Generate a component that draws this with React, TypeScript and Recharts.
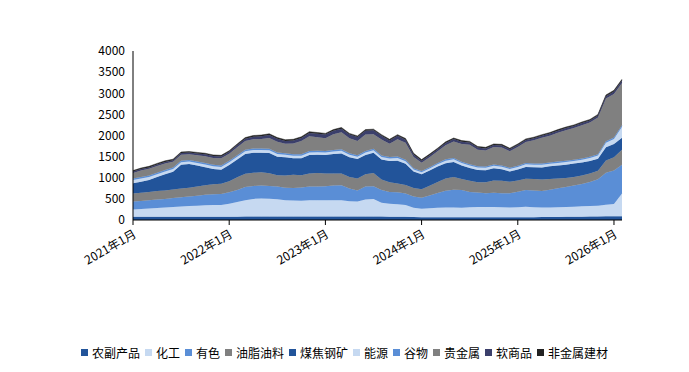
import React from "react";
import { AreaChart, Area, XAxis, YAxis, Legend } from "recharts";

// monthly, Jan 2021 .. Feb 2026
const months: string[] = [];
for (let y = 2021; y <= 2026; y++) {
  for (let m = 1; m <= 12; m++) {
    if (y === 2026 && m > 2) break;
    months.push(`${y}年${m}月`);
  }
}

const nongfu = [
  75, 75, 75, 75, 75, 75, 75, 75, 75, 75, 75, 75,
  75, 78, 80, 80, 80, 80, 80, 80, 80, 80, 80, 80,
  80, 80, 80, 80, 80, 80, 80, 80, 75, 75, 75, 70,
  65, 65, 65, 65, 65, 65, 65, 65, 65, 65, 65, 65,
  65, 68, 68, 70, 70, 72, 75, 75, 78, 80, 82, 90,
  90, 90,
];
const huagong = [
  175, 185, 195, 210, 220, 235, 245, 255, 265, 275, 280, 280,
  310, 350, 390, 420, 430, 425, 410, 390, 380, 375, 390, 385,
  385, 390, 390, 365, 355, 405, 420, 330, 310, 300, 280, 220,
  200, 215, 225, 230, 230, 225, 235, 240, 240, 240, 235, 230,
  235, 245, 235, 225, 225, 230, 235, 240, 245, 250, 255, 270,
  290, 540,
];
const youse = [
  185, 190, 195, 200, 205, 210, 220, 225, 235, 245, 255, 260,
  270, 285, 310, 305, 305, 300, 300, 295, 300, 315, 325, 330,
  335, 345, 355, 300, 265, 305, 300, 300, 280, 280, 270, 265,
  260, 300, 350, 400, 420, 420, 360, 345, 330, 340, 335, 340,
  370, 400, 395, 390, 420, 450, 470, 500, 530, 570, 630, 760,
  790, 680,
];
const youzhi = [
  195, 195, 200, 200, 200, 200, 205, 210, 215, 225, 235, 245,
  265, 300, 315, 315, 315, 300, 270, 290, 310, 290, 305, 315,
  300, 285, 276, 270, 280, 295, 310, 250, 230, 210, 205, 200,
  200, 230, 260, 285, 300, 260, 270, 245, 260, 290, 295, 270,
  265, 262, 270, 275, 255, 230, 215, 205, 200, 200, 200, 290,
  315, 355,
];
const meijiao = [
  240, 260, 280, 330, 380, 420, 560, 560, 500, 430, 360, 330,
  380, 420, 470, 470, 460, 480, 440, 430, 390, 400, 440, 435,
  440, 460, 475, 470, 465, 455, 480, 470, 500, 540, 500, 390,
  360, 360, 365, 365, 360, 320, 300, 290, 285, 290, 270, 245,
  260, 280, 280, 285, 300, 310, 315, 315, 310, 295, 280, 310,
  315, 280,
];
const nengyuan = [
  75, 75, 75, 70, 70, 65, 60, 60, 60, 65, 65, 65,
  65, 65, 65, 65, 65, 65, 60, 60, 60, 60, 60, 60,
  60, 60, 62, 60, 55, 60, 60, 60, 60, 65, 60, 50,
  45, 50, 55, 60, 60, 60, 60, 55, 55, 60, 60, 55,
  60, 65, 60, 60, 60, 60, 60, 60, 65, 70, 80, 110,
  120, 260,
];
const guwu = [
  35, 35, 35, 35, 35, 35, 35, 35, 35, 35, 35, 35,
  35, 35, 35, 35, 35, 35, 35, 35, 35, 35, 35, 35,
  35, 35, 35, 35, 35, 35, 35, 35, 35, 35, 35, 30,
  30, 30, 30, 30, 30, 30, 30, 30, 30, 30, 30, 30,
  30, 30, 30, 30, 30, 30, 30, 30, 30, 30, 30, 35,
  35, 35,
];
const guijinshu = [
  135, 158, 158, 160, 155, 140, 145, 135, 150, 160, 165, 170,
  170, 190, 202, 222, 227, 257, 257, 222, 257, 312, 347, 317,
  302, 372, 404, 352, 337, 387, 347, 382, 312, 407, 402, 267,
  195, 235, 275, 335, 395, 420, 460, 395, 380, 410, 425, 390,
  440, 495, 547, 610, 635, 683, 725, 750, 787, 810, 868, 1010,
  1030, 1005,
];
const ruanshangpin = [
  30, 32, 32, 35, 35, 35, 40, 40, 40, 45, 45, 45,
  45, 50, 55, 60, 65, 70, 70, 70, 70, 75, 80, 85,
  85, 85, 85, 90, 90, 90, 90, 85, 80, 80, 75, 60,
  50, 50, 50, 55, 55, 55, 55, 50, 50, 50, 50, 50,
  50, 50, 50, 50, 50, 50, 50, 50, 50, 50, 50, 55,
  55, 55,
];
const feijinshu = [
  25, 25, 25, 25, 25, 25, 25, 25, 25, 25, 25, 25,
  25, 27, 28, 28, 28, 28, 28, 28, 28, 28, 28, 28,
  28, 28, 28, 28, 28, 28, 28, 28, 28, 28, 28, 28,
  25, 25, 25, 25, 25, 25, 25, 25, 25, 25, 25, 25,
  25, 25, 25, 25, 25, 25, 25, 25, 25, 25, 25, 30,
  30, 30,
];

const yTicks = [0, 500, 1000, 1500, 2000, 2500, 3000, 3500, 4000];

const series = [
  { key: "农副产品", values: nongfu, color: "#22549A" },
  { key: "化工", values: huagong, color: "#C6D9F1" },
  { key: "有色", values: youse, color: "#5A8ED6" },
  { key: "油脂油料", values: youzhi, color: "#808080" },
  { key: "煤焦钢矿", values: meijiao, color: "#22549A" },
  { key: "能源", values: nengyuan, color: "#C6D9F1" },
  { key: "谷物", values: guwu, color: "#5A8ED6" },
  { key: "贵金属", values: guijinshu, color: "#808080" },
  { key: "软商品", values: ruanshangpin, color: "#3B3F6B" },
  { key: "非金属建材", values: feijinshu, color: "#222222" },
];

const data = months.map((m, i) => {
  const row: { [k: string]: string | number } = { month: m };
  series.forEach((s) => (row[s.key] = s.values[i]));
  return row;
});

const FONT = '"Noto Sans CJK SC", "Noto Sans", sans-serif';

function LegendBox() {
  return (
    <div
      style={{
        display: "flex",
        justifyContent: "center",
        alignItems: "center",
        height: 20,
        fontFamily: FONT,
        fontSize: 12,
        color: "#000",
      }}
    >
      {series.map((s, i) => (
        <span
          key={s.key}
          style={{ display: "inline-flex", alignItems: "center", marginRight: i === series.length - 1 ? 0 : 5 }}
        >
          <span style={{ width: 7, height: 7, background: s.color, marginRight: 4, display: "inline-block" }} />
          {s.key}
        </span>
      ))}
    </div>
  );
}

export default function App() {
  return (
    <div style={{ position: "fixed", left: 0, top: 0, width: 689, height: 372, background: "#fff" }}>
      <AreaChart width={689} height={372} data={data} margin={{ top: 51, right: 67, left: 0, bottom: 10 }}>
        <XAxis
          dataKey="month"
          interval={11}
          tickSize={5}
          tickMargin={4}
          height={122}
          angle={-30}
          textAnchor="end"
          axisLine={{ stroke: "#000" }}
          tickLine={{ stroke: "#000" }}
          tick={{ fill: "#000", fontSize: 12, fontFamily: FONT }}
        />
        <YAxis
          width={133}
          domain={[0, 4000]}
          ticks={yTicks}
          tickLine={false}
          tickSize={0}
          tickMargin={8}
          axisLine={{ stroke: "#000" }}
          tick={{ fill: "#000", fontSize: 12, fontFamily: FONT }}
        />
        {series.map((s) => (
          <Area
            key={s.key}
            type="linear"
            dataKey={s.key}
            stackId="1"
            stroke={s.color}
            strokeWidth={0.5}
            fill={s.color}
            fillOpacity={1}
            isAnimationActive={false}
          />
        ))}
        <Legend
          verticalAlign="bottom"
          wrapperStyle={{ height: 20, left: 0, width: 689 }}
          content={() => <LegendBox />}
        />
      </AreaChart>
    </div>
  );
}
